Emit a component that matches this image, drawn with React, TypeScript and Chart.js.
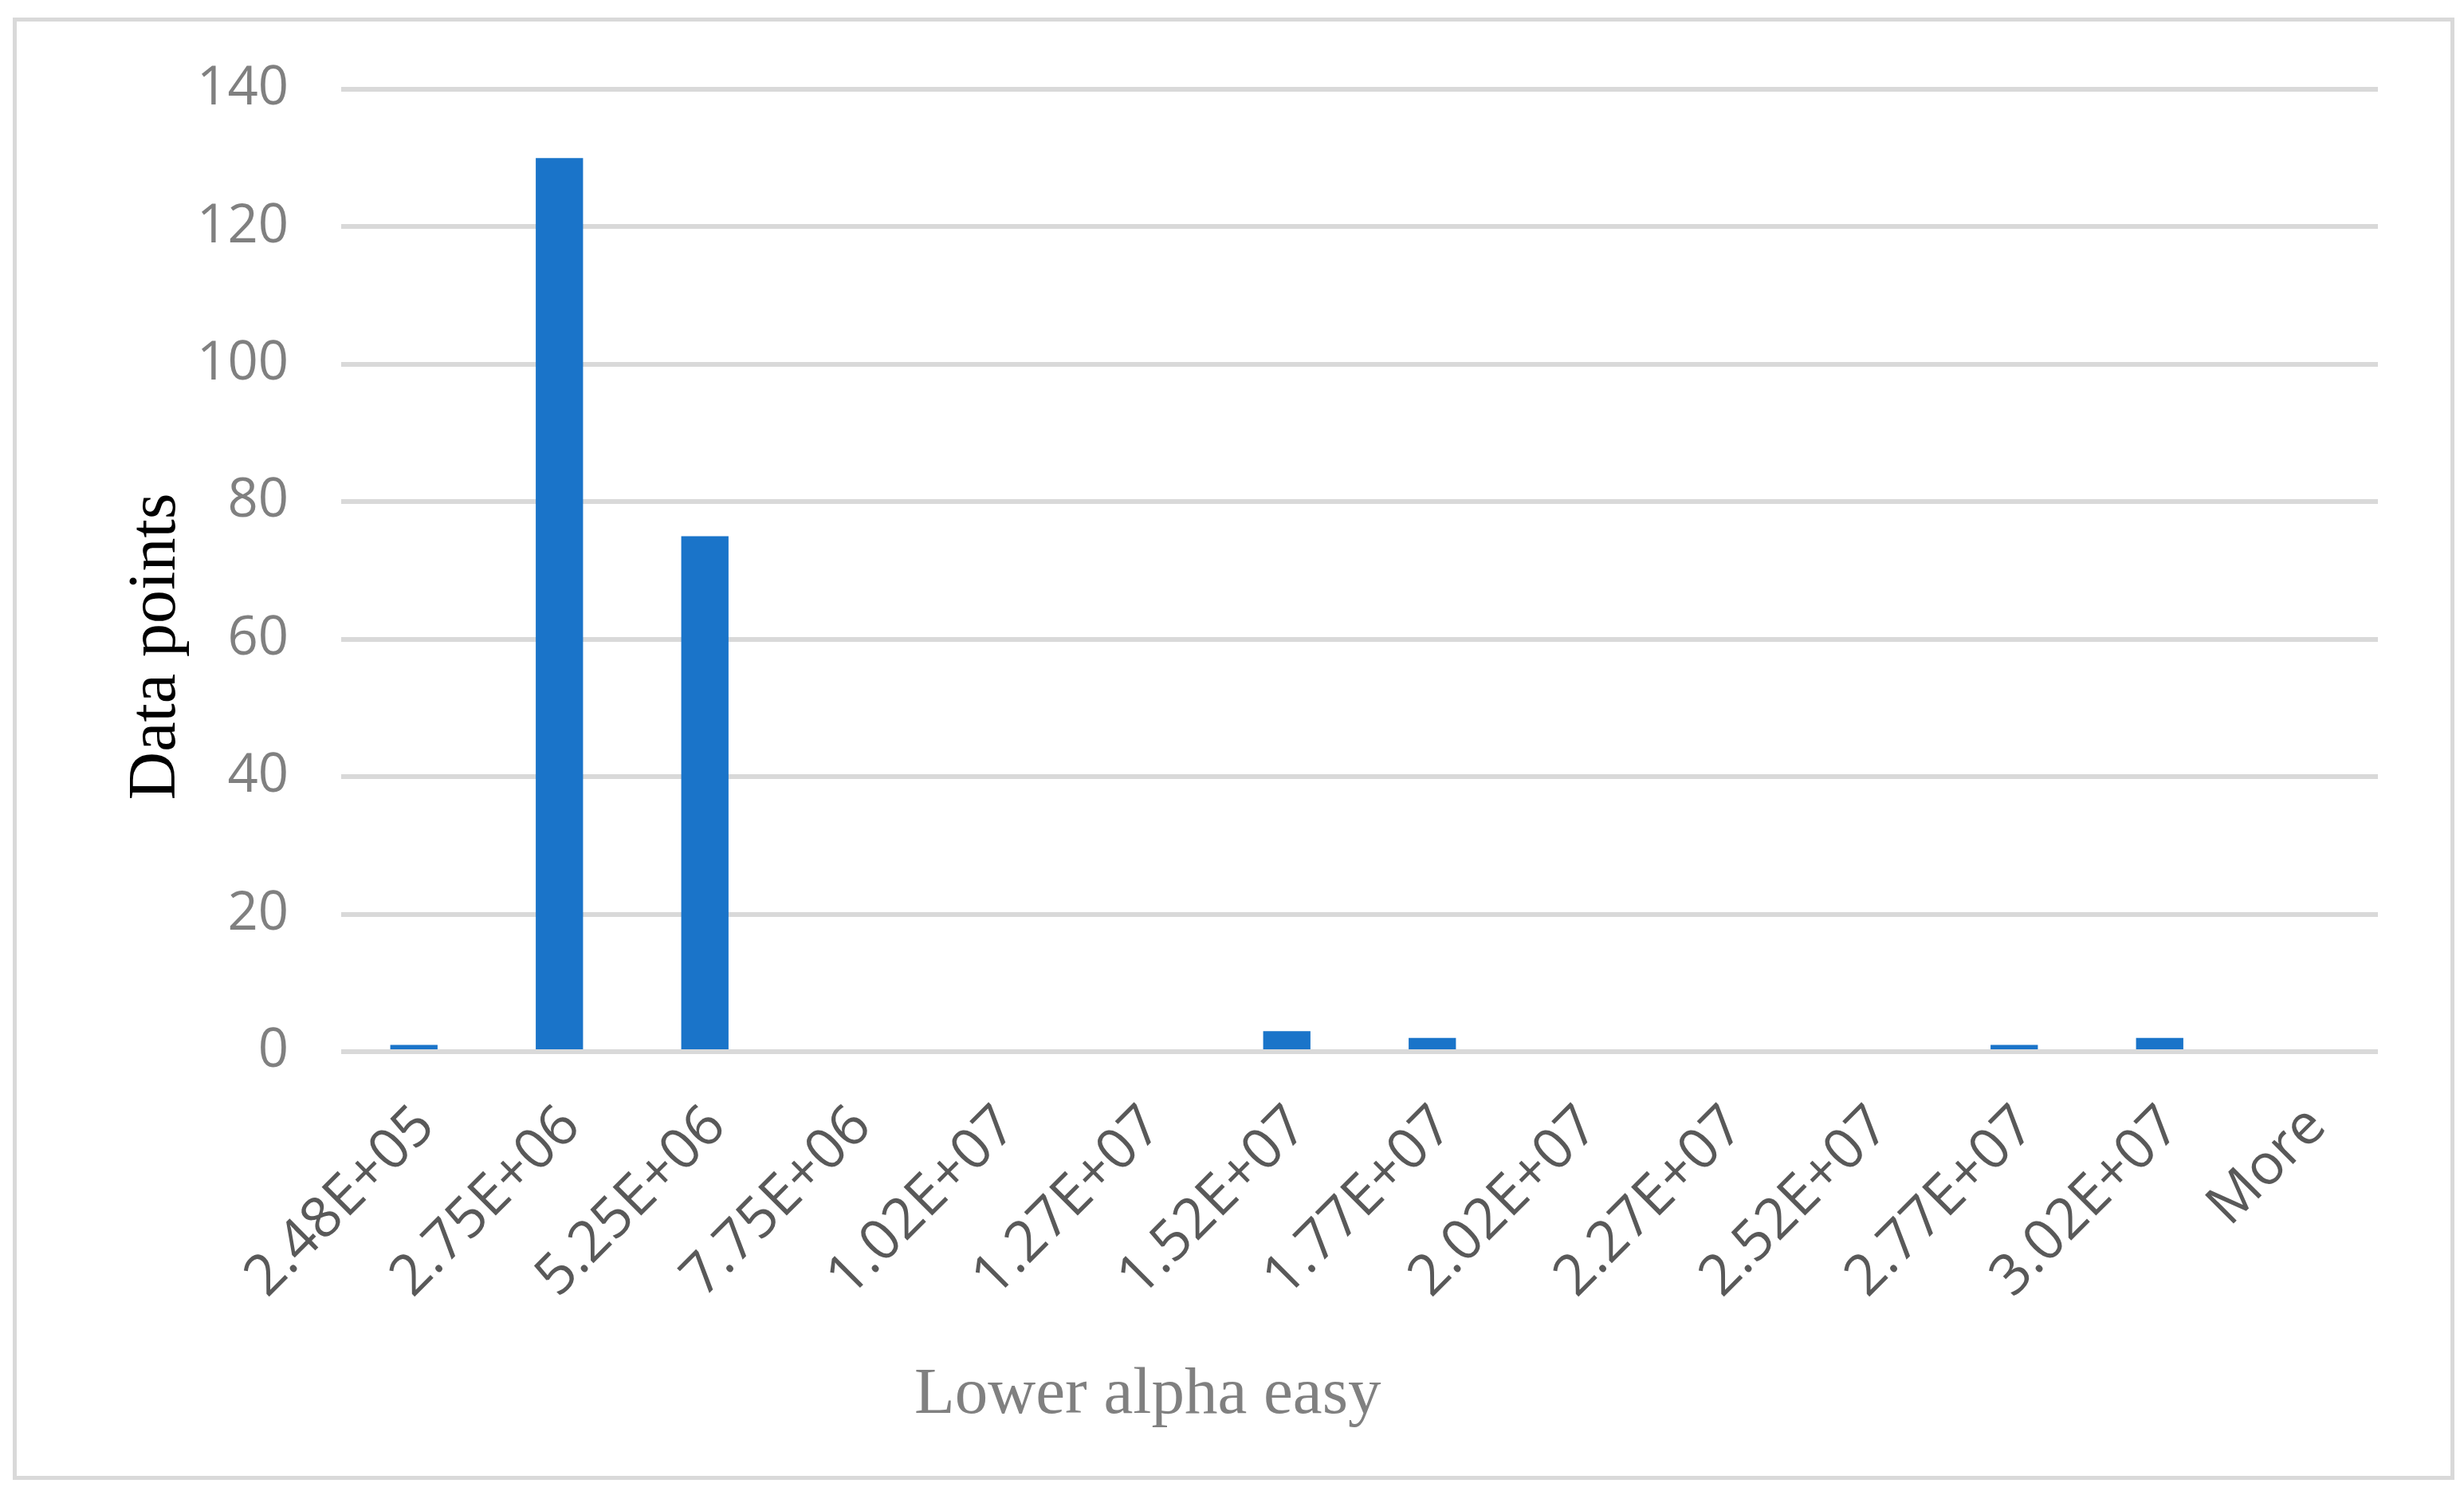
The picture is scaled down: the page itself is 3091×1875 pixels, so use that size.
import React, { useEffect, useRef } from "react";
import { Chart, registerables } from "chart.js";

Chart.register(...registerables);

const categories = [
  "2.48E+05", "2.75E+06", "5.25E+06", "7.75E+06", "1.02E+07", "1.27E+07", "1.52E+07",
  "1.77E+07", "2.02E+07", "2.27E+07", "2.52E+07", "2.77E+07", "3.02E+07", "More",
];
const counts = [1, 130, 75, 0, 0, 0, 3, 2, 0, 0, 0, 1, 2, 0];
const yMin = 0;
const yMax = 140;
const yStep = 20;
const xTitle = "Lower alpha easy";
const yTitle = "Data points";

const W = 3091;
const H = 1875;

const framePlugin = {
  id: "frame",
  beforeDraw(chart: any) {
    const ctx = chart.ctx;
    ctx.save();
    ctx.fillStyle = "#ffffff";
    ctx.fillRect(0, 0, chart.width, chart.height);
    ctx.strokeStyle = "#d9d9d9";
    ctx.lineWidth = 5;
    ctx.strokeRect(18.5, 24.5, 3058, 1829);
    ctx.restore();
  },
  afterDraw(chart: any) {
    const ctx = chart.ctx;
    const a = chart.chartArea;
    ctx.save();
    // x-axis title
    ctx.fillStyle = "#808080";
    ctx.font = "83px 'Liberation Serif'";
    ctx.textAlign = "center";
    ctx.textBaseline = "alphabetic";
    ctx.fillText(xTitle, a.left + (a.right - a.left) * 0.396, a.bottom + 453);
    // y-axis title
    ctx.translate(219, 811);
    ctx.rotate(-Math.PI / 2);
    ctx.fillStyle = "#000000";
    ctx.font = "84px 'Liberation Serif'";
    ctx.textAlign = "center";
    ctx.textBaseline = "alphabetic";
    ctx.fillText(yTitle, 0, 0);
    ctx.restore();
  },
};

export default function App() {
  const ref = useRef<HTMLCanvasElement | null>(null);
  useEffect(() => {
    if (!ref.current) return;
    const chart = new Chart(ref.current, {
      type: "bar",
      data: {
        labels: categories,
        datasets: [
          {
            data: counts,
            backgroundColor: "#1a74c9",
            borderWidth: 0,
            barPercentage: 0.325,
            categoryPercentage: 1,
          },
        ],
      },
      options: {
        responsive: false,
        animation: false,
        devicePixelRatio: 1,
        layout: { padding: { left: 0, top: 112, right: 108, bottom: 0 } },
        plugins: { legend: { display: false }, tooltip: { enabled: false } },
        scales: {
          x: {
            grid: { display: false },
            border: { display: false },
            ticks: {
              minRotation: 45,
              maxRotation: 45,
              autoSkip: false,
              padding: 44,
              labelOffset: 15,
              color: "#595959",
              font: { family: "'Open Sans'", size: 71 },
            },
            afterFit(scale: any) {
              scale.height = 556;
            },
          },
          y: {
            min: yMin,
            max: yMax,
            ticks: {
              stepSize: yStep,
              padding: 66,
              color: "#808080",
              font: { family: "'Open Sans'", size: 67 },
            },
            grid: { color: "#d9d9d9", lineWidth: 6, drawTicks: false },
            border: { display: false },
            afterFit(scale: any) {
              scale.width = 428;
            },
          },
        },
      },
      plugins: [framePlugin],
    });
    return () => chart.destroy();
  }, []);
  return (
    <div style={{ position: "fixed", left: 0, top: 0, width: W, height: H, background: "#fff" }}>
      <canvas ref={ref} width={W} height={H} style={{ width: W, height: H, display: "block" }} />
    </div>
  );
}
